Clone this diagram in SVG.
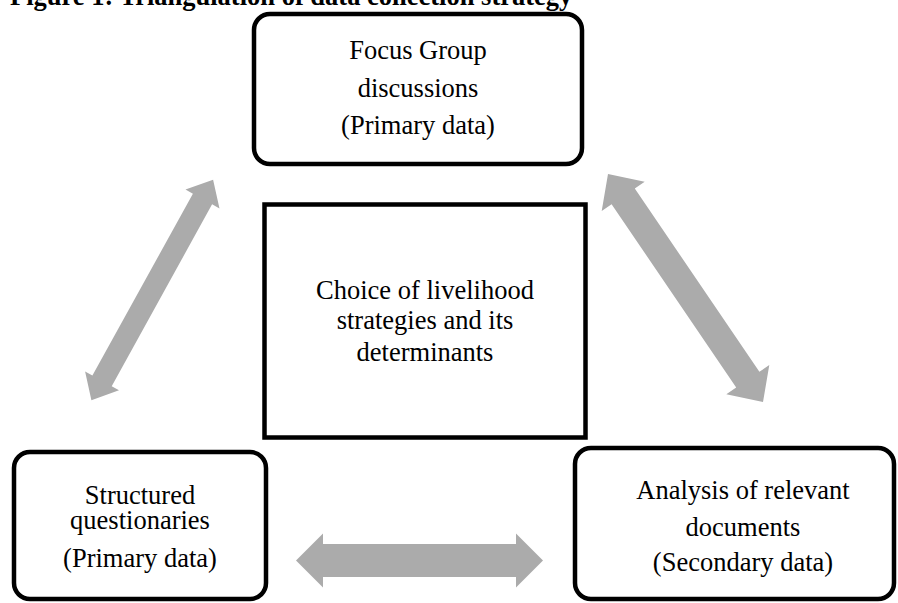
<svg xmlns="http://www.w3.org/2000/svg" width="898" height="603" viewBox="0 0 898 603">
<style>
.box{fill:#fff;stroke:#000;stroke-width:4.5}
.t{font-family:"Liberation Serif","Times New Roman",serif;font-size:26.5px;fill:#000;text-anchor:middle}
.title{font-family:"Liberation Serif","Times New Roman",serif;font-size:26.5px;font-weight:bold;fill:#000}
.arr{fill:#ababab;stroke:none}
</style>
<rect width="898" height="603" fill="#fff"/>
<text class="title" x="10" y="5">Figure 1: Triangulation of data collection strategy</text>
<g id="connectors">
<polygon class="arr" points="213.1,179.7 185.5,189.6 192.9,193.7 92.4,375.6 85.1,371.6 91.4,400.2 119.0,390.3 111.7,386.3 212.1,204.3 219.5,208.4"/>
<polygon class="arr" points="608,174 601.7,211.0 611.6,204.2 736.2,387.5 726.3,394.3 763,402 769.3,365.1 759.4,371.8 634.8,188.5 644.7,181.7"/>
<polygon class="arr" points="296,560.5 323,533.5 323,544 516,544 516,533.5 543,560.5 516,587.5 516,577 323,577 323,587.5"/>
</g>
<g id="focus-group">
<rect class="box" x="254" y="14" width="328" height="150" rx="16"/>
<text class="t" x="418" y="59">Focus Group</text>
<text class="t" x="418" y="97">discussions</text>
<text class="t" x="418" y="134">(Primary data)</text>
</g>
<g id="center">
<rect class="box" x="264.5" y="204.5" width="321" height="233"/>
<text class="t" x="425" y="299">Choice of livelihood</text>
<text class="t" x="425" y="329">strategies and its</text>
<text class="t" x="425" y="361">determinants</text>
</g>
<g id="questionaries">
<rect class="box" x="14" y="452" width="252" height="147" rx="16"/>
<text class="t" x="140" y="504">Structured</text>
<text class="t" x="140" y="529">questionaries</text>
<text class="t" x="140" y="567">(Primary data)</text>
</g>
<g id="documents">
<rect class="box" x="575" y="448" width="319" height="151" rx="16"/>
<text class="t" x="743" y="499">Analysis of relevant</text>
<text class="t" x="743" y="536">documents</text>
<text class="t" x="743" y="571">(Secondary data)</text>
</g>
</svg>
